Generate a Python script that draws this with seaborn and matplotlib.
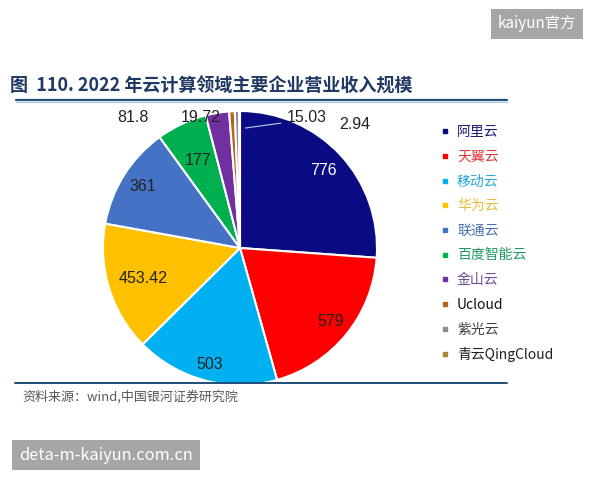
import matplotlib
matplotlib.use("Agg")
import matplotlib.pyplot as plt
import seaborn as sns
import numpy as np
from matplotlib.lines import Line2D

# ---- data ----
companies = ["阿里云", "天翼云", "移动云", "华为云", "联通云", "百度智能云",
             "金山云", "Ucloud", "紫光云", "青云QingCloud"]
revenue = [776, 579, 503, 453.42, 361, 177, 81.8, 19.72, 15.03, 2.94]
value_labels = ["776", "579", "503", "453.42", "361", "177", "81.8", "19.72", "15.03", "2.94"]
title_text = "图  110. 2022 年云计算领域主要企业营业收入规模"
source_text = "资料来源：wind,中国银河证券研究院"

# ---- style ----
sns.set_style("white")
plt.rcParams["font.family"] = ["Noto Sans CJK SC", "DejaVu Sans"]

slice_colors = sns.color_palette(["#0A0A82", "#FF0000", "#00B0F0", "#FFC000", "#4472C4",
                                  "#00B050", "#7030A0", "#B5651D", "#8C8C8C", "#A8862A"])
legend_text_colors = ["#1A1A6E", "#E03535", "#2AA7D9", "#E6BE3C", "#4A6FB0",
                      "#1F9A60", "#6A4A9A", "#111111", "#404040", "#202020"]
inner_label_colors = ["white"] + ["#222222"] * 5
inner_label_r = [0.83, 0.85, 0.88, 0.74, 0.84, 0.71]
outer_label_pos = [(-0.781, 0.956), (-0.285, 0.956), (0.489, 0.956), (0.839, 0.905)]

W, H = 600, 480
fig = plt.figure(figsize=(6, 4.8), dpi=100)
fig.patch.set_facecolor("white")

cx, cy, R = 240, 248, 137
ax = fig.add_axes([(cx - R) / W, (H - cy - R) / H, 2 * R / W, 2 * R / H])

wedges, _ = ax.pie(revenue, colors=slice_colors, startangle=90, counterclock=False,
                   radius=1, wedgeprops=dict(edgecolor="white", linewidth=1.5))
ax.set_xlim(-1, 1)
ax.set_ylim(-1, 1)
ax.set_aspect("equal")
ax.axis("off")

num_font = ["Liberation Sans Narrow", "Liberation Sans", "DejaVu Sans"]
for i, w in enumerate(wedges):
    mid = np.deg2rad((w.theta1 + w.theta2) / 2)
    if i < 6:
        r = inner_label_r[i]
        ax.text(r * np.cos(mid), r * np.sin(mid), value_labels[i], ha="center", va="center",
                fontsize=11.5, color=inner_label_colors[i], family=num_font)
    else:
        tx, ty = outer_label_pos[i - 6]
        if i == 8:
            ax.annotate(value_labels[i], xy=(0.04, 0.876), xytext=(tx, ty),
                        ha="center", va="center", fontsize=11.5, color="#222222",
                        family=num_font, annotation_clip=False,
                        arrowprops=dict(arrowstyle="-", color="#9DC3E6", lw=0.9,
                                        shrinkA=2, shrinkB=0,
                                        relpos=(0, 0.15)))
        else:
            ax.text(tx, ty, value_labels[i], ha="center", va="center", fontsize=11.5,
                    color="#222222", family=num_font, clip_on=False)

# legend
handles = [Line2D([0], [0], marker="s", linestyle="none", markersize=3.5,
                  markerfacecolor=c, markeredgecolor=c) for c in slice_colors]
leg = fig.legend(handles, companies, loc="upper left",
                 bbox_to_anchor=(441 / W, 1 - 125 / H), frameon=False,
                 fontsize=10, labelspacing=0.77, handlelength=0.6, handletextpad=0.55,
                 borderpad=0, borderaxespad=0)
for t, c in zip(leg.get_texts(), legend_text_colors):
    t.set_color(c)

# title and rules
fig.text(10 / W, 1 - 86 / H, title_text, ha="left", va="center", fontsize=13,
         fontweight="bold", color="#1F3864")
fig.add_artist(Line2D([16 / W, 507 / W], [1 - 100 / H, 1 - 100 / H], color="#1F4E79",
                      lw=1.6, transform=fig.transFigure))
fig.add_artist(Line2D([16 / W, 507 / W], [1 - 101.5 / H, 1 - 101.5 / H], color="#9DC3E6",
                      lw=0.8, transform=fig.transFigure))
fig.add_artist(Line2D([15 / W, 507 / W], [1 - 383 / H, 1 - 383 / H], color="#1F4E79",
                      lw=1.4, transform=fig.transFigure))
fig.text(22 / W, 1 - 397 / H, source_text, ha="left", va="center", fontsize=9.4,
         color="#595959", style="italic")

# watermarks
fig.text(537 / W, 1 - 24 / H, "kaiyun官方", ha="center", va="center", fontsize=11,
         color="white", bbox=dict(boxstyle="square,pad=0.45", facecolor="#A6A6A6",
                                  edgecolor="none"))
fig.text(106 / W, 1 - 455 / H, "deta-m-kaiyun.com.cn", ha="center", va="center",
         fontsize=11.8, color="white", bbox=dict(boxstyle="square,pad=0.42",
                                                 facecolor="#A6A6A6", edgecolor="none"))

fig.savefig("out.png", dpi=100, facecolor="white")
